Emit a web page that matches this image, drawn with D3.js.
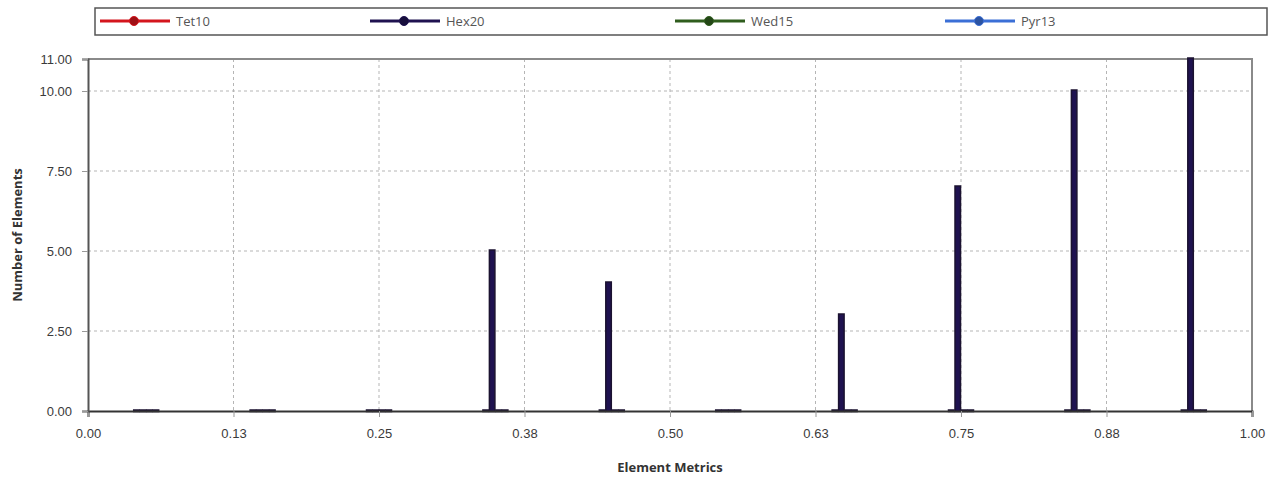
<!DOCTYPE html>
<html>
<head>
<meta charset="utf-8">
<script src="https://cdn.jsdelivr.net/npm/d3@7"></script>
<style>
  body { margin: 0; background: #fff; }
  svg { font-family: "Open Sans", "Noto Sans", sans-serif; }
</style>
</head>
<body>
<svg id="chart"></svg>
<script>
const seriesNames = ['Tet10', 'Hex20', 'Wed15', 'Pyr13'];
const seriesColors = ['#d4151d', '#1f1250', '#2f5d1d', '#3b6fd6'];
const binCenters = [0.05, 0.15, 0.25, 0.35, 0.45, 0.55, 0.65, 0.75, 0.85, 0.95];
const tet10Values = [0, 0, 0, 0, 0, 0, 0, 0, 0, 0];
const hex20Values = [0, 0, 0, 5, 4, 0, 3, 7, 10, 11];
const wed15Values = [0, 0, 0, 0, 0, 0, 0, 0, 0, 0];
const pyr13Values = [0, 0, 0, 0, 0, 0, 0, 0, 0, 0];
const xTickValues = [0, 0.125, 0.25, 0.375, 0.5, 0.625, 0.75, 0.875, 1];
const yTickValues = [0, 2.5, 5, 7.5, 10, 11];

const width = 1277;
const height = 478;
const margin = { top: 59, right: 25, bottom: 67, left: 88 };

const svg = d3.select('#chart').attr('width', width).attr('height', height);

const x = d3.scaleLinear().domain([0, 1]).range([margin.left, width - margin.right]);
const y = d3.scaleLinear().domain([0, 11]).range([height - margin.bottom, margin.top]);
const inner = d3.scaleBand().domain(seriesNames).range([-13, 13]).padding(0);

const allValues = [tet10Values, hex20Values, wed15Values, pyr13Values];
const barData = [];
seriesNames.forEach((name, si) => {
  binCenters.forEach((c, i) => {
    barData.push({ series: name, color: seriesColors[si], center: c, value: allValues[si][i] });
  });
});

// grid
svg.append('g')
  .selectAll('line')
  .data(yTickValues.filter(v => v > 0 && v < 11))
  .join('line')
  .attr('x1', margin.left).attr('x2', width - margin.right)
  .attr('y1', d => y(d)).attr('y2', d => y(d))
  .attr('stroke', '#b5b5b5').attr('stroke-dasharray', '3,3');

svg.append('g')
  .selectAll('line')
  .data(xTickValues.filter(v => v > 0 && v < 1))
  .join('line')
  .attr('x1', d => x(d)).attr('x2', d => x(d))
  .attr('y1', margin.top).attr('y2', height - margin.bottom)
  .attr('stroke', '#b5b5b5').attr('stroke-dasharray', '3,3');

// plot frame top/right
svg.append('path')
  .attr('d', `M${margin.left},${margin.top}H${width - margin.right}V${height - margin.bottom}`)
  .attr('fill', 'none').attr('stroke', '#8a8a8a').attr('stroke-width', 2);

// bars
svg.append('g')
  .selectAll('rect')
  .data(barData)
  .join('rect')
  .attr('x', d => x(d.center) + inner(d.series) + 0.5)
  .attr('y', d => y(d.value) - 1)
  .attr('width', inner.bandwidth() - 1)
  .attr('height', d => y(0) - y(d.value) + 1.5)
  .attr('fill', d => d.color)
  .attr('stroke', '#1b1230')
  .attr('stroke-width', 1.5);

// axes
const xAxis = svg.append('g')
  .attr('transform', `translate(0,${y(0)})`)
  .call(d3.axisBottom(x).tickValues(xTickValues).tickFormat(d3.format('.2f')).tickSize(6).tickPadding(12));
xAxis.select('.domain').attr('stroke', '#333').attr('stroke-width', 2);
xAxis.selectAll('.tick line').attr('stroke', '#999');
xAxis.selectAll('.tick text').attr('fill', '#3a3a3a').attr('font-size', 13);

const yAxis = svg.append('g')
  .attr('transform', `translate(${margin.left},0)`)
  .call(d3.axisLeft(y).tickValues(yTickValues).tickFormat(d3.format('.2f')).tickSize(6).tickPadding(10));
yAxis.select('.domain').attr('stroke', '#555').attr('stroke-width', 2);
yAxis.selectAll('.tick line').attr('stroke', '#999');
yAxis.selectAll('.tick text').attr('fill', '#3a3a3a').attr('font-size', 13);

// axis titles
svg.append('text')
  .attr('x', (margin.left + width - margin.right) / 2)
  .attr('y', 472)
  .attr('text-anchor', 'middle')
  .attr('font-size', 13).attr('font-weight', 'bold').attr('fill', '#333')
  .text('Element Metrics');

svg.append('text')
  .attr('transform', `translate(22,${(margin.top + height - margin.bottom) / 2}) rotate(-90)`)
  .attr('text-anchor', 'middle')
  .attr('font-size', 13).attr('font-weight', 'bold').attr('fill', '#333')
  .text('Number of Elements');

// legend
const legend = svg.append('g');
legend.append('rect')
  .attr('x', 95).attr('y', 8).attr('width', 1172).attr('height', 27)
  .attr('fill', '#fff').attr('stroke', '#555').attr('stroke-width', 1.5);

const legendX = [100, 370, 675, 945];
const item = legend.selectAll('g.item')
  .data(seriesNames)
  .join('g')
  .attr('class', 'item')
  .attr('transform', (d, i) => `translate(${legendX[i]},21)`);
item.append('line')
  .attr('x1', 0).attr('x2', 70).attr('y1', 0).attr('y2', 0)
  .attr('stroke', (d, i) => seriesColors[i]).attr('stroke-width', 3);
item.append('circle')
  .attr('cx', 34).attr('cy', 0).attr('r', 4.5)
  .attr('fill', (d, i) => d3.color(seriesColors[i]).darker(0.8))
  .attr('stroke', (d, i) => seriesColors[i]);
item.append('text')
  .attr('x', 76).attr('y', 4.5)
  .attr('font-size', 13).attr('fill', '#555')
  .text(d => d);
</script>
</body>
</html>
